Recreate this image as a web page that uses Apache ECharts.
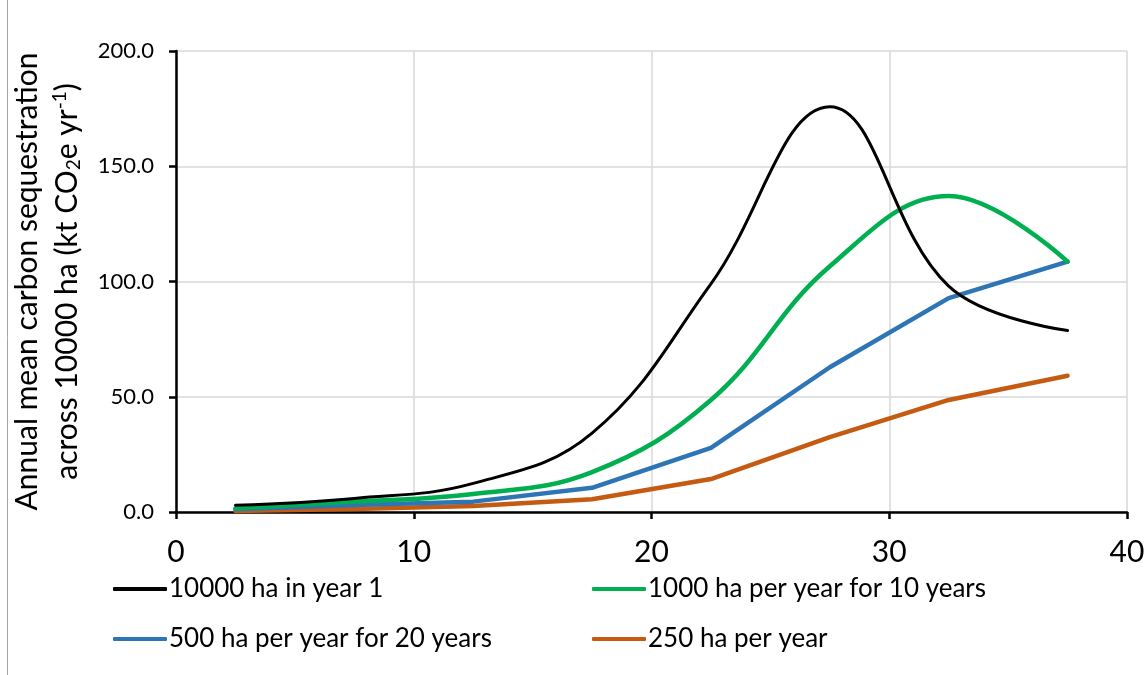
<!DOCTYPE html>
<html>
<head>
<meta charset="utf-8">
<script src="https://cdn.jsdelivr.net/npm/echarts@6/dist/echarts.min.js"></script>
<style>html,body{margin:0;padding:0;background:#fff}#c{width:1146px;height:675px}</style>
</head>
<body>
<div id="c"></div>
<script>
// Data
const years = [2.5, 7.5, 12.5, 17.5, 22.5, 27.5, 32.5, 37.5];
const s10000Year1 = [2.9, 5.9, 12.4, 34.2, 99.0, 175.8, 98.0, 78.7];
const s1000For10 = [1.6, 4.5, 7.8, 17.3, 48.6, 106.6, 137.1, 108.6];
const s500For20 = [1.2, 3.0, 4.5, 10.5, 27.8, 62.8, 92.8, 108.6];
const s250PerYear = [0.4, 1.3, 2.6, 5.5, 14.3, 32.5, 48.6, 59.1];
const seriesNames = ['10000 ha in year 1', '1000 ha per year for 10 years', '500 ha per year for 20 years', '250 ha per year'];
const xTicks = [0, 10, 20, 30, 40];
const yTicks = [0, 50, 100, 150, 200];

const pair = arr => years.map((x, i) => [x, arr[i]]);
const font = 'Lato, "Open Sans", sans-serif';
const ink = '#000';

const chart = echarts.init(document.getElementById('c'), null, {renderer: 'canvas'});
chart.setOption({
  animation: false,
  backgroundColor: '#fff',
  textStyle: {fontFamily: font},
  grid: {left: 176, right: 19, top: 51, bottom: 163, containLabel: false, outerBoundsMode: 'none'},
  xAxis: {
    type: 'value', min: xTicks[0], max: xTicks[xTicks.length - 1], interval: 10,
    axisLine: {show: true, onZero: false, lineStyle: {color: '#000', width: 2.5}},
    axisTick: {show: true, inside: false, length: 7, lineStyle: {color: '#000', width: 2.5}},
    axisLabel: {color: ink, fontSize: 30, lineHeight: 30, margin: 25, fontFamily: font},
    splitLine: {show: true, lineStyle: {color: '#d9d9d9', width: 1.5}}
  },
  yAxis: {
    type: 'value', min: yTicks[0], max: yTicks[yTicks.length - 1], interval: 50,
    axisLine: {show: true, lineStyle: {color: '#000', width: 2.5}},
    axisTick: {show: true, length: 7, lineStyle: {color: '#000', width: 2.5}},
    axisLabel: {color: ink, fontSize: 22, margin: 22, fontFamily: font, formatter: v => v.toFixed(1)},
    splitLine: {show: true, lineStyle: {color: '#d9d9d9', width: 1.5}},
    name: '{t|Annual mean carbon sequestration}\n{t|across 10000 ha (kt CO}{sub|2}{t|e yr}{sup|-1}{t|)}',
    nameLocation: 'middle', nameRotate: 90, nameGap: 73,
    nameTextStyle: {
      color: ink, fontFamily: font, fontSize: 30, lineHeight: 40,
      rich: {
        t: {fontSize: 30, fontFamily: font, color: ink, lineHeight: 40},
        sub: {fontSize: 19, fontFamily: font, color: ink, padding: [14, 0, 0, 0], lineHeight: 40},
        sup: {fontSize: 19, fontFamily: font, color: ink, padding: [0, 0, 14, 0], lineHeight: 40}
      }
    }
  },
  legend: [
    {data: [seriesNames[0], seriesNames[2]], orient: 'vertical', left: 108, top: 569, itemGap: 20,
     icon: 'roundRect', itemWidth: 54, itemHeight: 4,
     textStyle: {fontSize: 26, lineHeight: 30, color: ink, fontFamily: font, padding: [0, 0, 0, -3]}},
    {data: [seriesNames[1], seriesNames[3]], orient: 'vertical', left: 587, top: 569, itemGap: 20,
     icon: 'roundRect', itemWidth: 54, itemHeight: 4,
     textStyle: {fontSize: 26, lineHeight: 30, color: ink, fontFamily: font, padding: [0, 0, 0, -3]}}
  ],
  graphic: [{type: 'line', shape: {x1: 7.5, y1: 0, x2: 7.5, y2: 675}, style: {stroke: '#a6a6a6', lineWidth: 1}}],
  series: [
    {name: seriesNames[0], type: 'line', data: pair(s10000Year1), smooth: 0.4, showSymbol: false, symbol: 'none',
     itemStyle: {color: '#000000'}, lineStyle: {color: '#000000', width: 3, cap: 'round'}, z: 5},
    {name: seriesNames[1], type: 'line', data: pair(s1000For10), smooth: 0.4, showSymbol: false, symbol: 'none',
     itemStyle: {color: '#00b050'}, lineStyle: {color: '#00b050', width: 4.5, cap: 'round'}, z: 4},
    {name: seriesNames[2], type: 'line', data: pair(s500For20), smooth: false, showSymbol: false, symbol: 'none',
     itemStyle: {color: '#2e75b6'}, lineStyle: {color: '#2e75b6', width: 4.5, cap: 'round'}, z: 3},
    {name: seriesNames[3], type: 'line', data: pair(s250PerYear), smooth: false, showSymbol: false, symbol: 'none',
     itemStyle: {color: '#c55a11'}, lineStyle: {color: '#c55a11', width: 4.5, cap: 'round'}, z: 2}
  ]
});
</script>
</body>
</html>
